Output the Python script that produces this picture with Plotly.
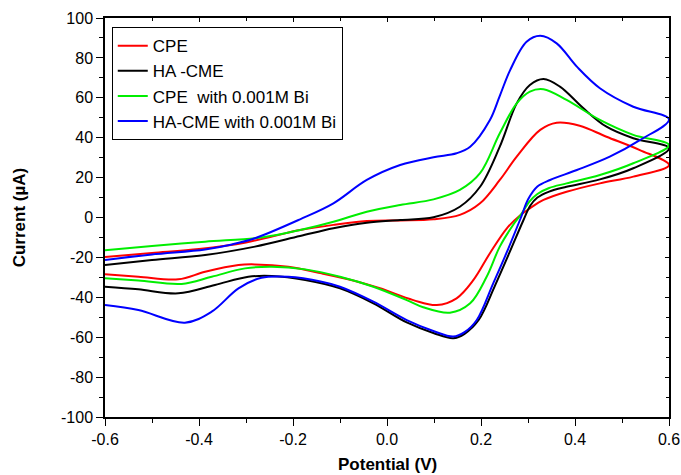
import plotly.graph_objects as go

# ---- data ----
cpe_v = [-0.6, -0.5, -0.4, -0.3, -0.232, -0.185, -0.114, -0.043, 0.028, 0.099, 0.155, 0.198, 0.24, 0.276, 0.326, 0.361, 0.41, 0.467, 0.538, 0.6,
         0.524, 0.453, 0.382, 0.333, 0.304, 0.283, 0.255, 0.219, 0.184, 0.148, 0.106, 0.056, -0.015, -0.068, -0.139, -0.21, -0.281, -0.316, -0.387, -0.444, -0.529, -0.6]
cpe_i = [-19.8, -17.8, -15.8, -12.5, -8.8, -6.3, -3.7, -1.8, -1.5, -0.9, 1.3, 7.1, 18.8, 30.5, 43.9, 47.5, 46.0, 40.5, 33.8, 26.3,
         20.5, 17.1, 12.9, 8.8, 4.6, 1.0, -5.4, -17.9, -31.3, -40.5, -43.9, -41.4, -35.5, -31.8, -28.0, -24.7, -23.5, -23.8, -27.2, -31.0, -29.7, -28.5]

hacme_v = [-0.6, -0.5, -0.387, -0.281, -0.185, -0.114, -0.043, 0.028, 0.099, 0.155, 0.198, 0.24, 0.276, 0.304, 0.333, 0.368, 0.418, 0.467, 0.524, 0.6,
           0.524, 0.453, 0.382, 0.345, 0.32, 0.305, 0.29, 0.26, 0.23, 0.195, 0.165, 0.141, 0.1, 0.042, -0.029, -0.1, -0.174, -0.245, -0.295, -0.366, -0.444, -0.529, -0.6]
hacme_i = [-23.8, -21.3, -18.8, -14.6, -9.3, -5.4, -2.6, -1.25, 0.1, 5.4, 15.4, 35.5, 57.2, 66.4, 69.4, 65.6, 54.7, 45.5, 39.7, 34.7,
           24.7, 19.1, 15.4, 13.0, 10.0, 6.0, -1.5, -17.9, -34.0, -51.4, -58.3, -60.5, -58.0, -52.6, -43.0, -35.5, -31.3, -29.3, -29.7, -33.8, -38.0, -36.0, -34.7]

cpebi_v = [-0.6, -0.5, -0.387, -0.281, -0.232, -0.185, -0.114, -0.043, 0.028, 0.099, 0.155, 0.198, 0.24, 0.276, 0.304, 0.333, 0.382, 0.453, 0.524, 0.6,
           0.524, 0.453, 0.382, 0.345, 0.32, 0.303, 0.285, 0.269, 0.24, 0.212, 0.177, 0.134, 0.077, 0.042, -0.029, -0.1, -0.174, -0.245, -0.302, -0.373, -0.437, -0.529, -0.6]
cpebi_i = [-16.4, -14.3, -12.1, -10.4, -8.6, -6.3, -2.1, 2.9, 6.3, 9.1, 13.8, 22.2, 42.2, 57.2, 63.1, 64.3, 58.9, 48.9, 41.4, 36.3,
           27.2, 21.3, 17.1, 14.8, 11.8, 8.0, 1.5, -3.5, -14.6, -29.7, -43.0, -47.7, -45.0, -41.4, -34.7, -29.7, -26.0, -24.7, -25.5, -29.7, -33.3, -31.6, -30.5]

hacmebi_v = [-0.6, -0.5, -0.387, -0.33, -0.281, -0.185, -0.114, -0.043, 0.028, 0.099, 0.148, 0.177, 0.219, 0.24, 0.262, 0.297, 0.326, 0.361, 0.404, 0.453, 0.524, 0.6,
             0.538, 0.474, 0.404, 0.347, 0.32, 0.30, 0.285, 0.254, 0.226, 0.191, 0.165, 0.141, 0.1, 0.042, -0.029, -0.1, -0.139, -0.21, -0.267, -0.316, -0.373, -0.43, -0.529, -0.6]
hacmebi_i = [-21.3, -18.5, -16.0, -13.5, -10.4, -0.9, 7.1, 18.8, 26.3, 30.2, 32.2, 35.5, 48.9, 61.0, 73.9, 88.1, 91.1, 87.3, 75.6, 64.8, 55.5, 49.2,
             38.8, 30.5, 23.8, 18.8, 15.5, 9.0, 0.0, -17.9, -33.0, -51.4, -57.5, -59.7, -57.0, -51.4, -42.2, -34.7, -32.2, -29.7, -30.2, -35.5, -47.2, -52.7, -46.4, -43.9]

names = ["CPE", "HA -CME", "CPE\u00a0 with 0.001M Bi", "HA-CME with 0.001M Bi"]
colors = ["#ff0000", "#000000", "#00ee00", "#0000ff"]
series = [(cpe_v, cpe_i), (hacme_v, hacme_i), (cpebi_v, cpebi_i), (hacmebi_v, hacmebi_i)]

x_ticks = [-0.6, -0.4, -0.2, 0.0, 0.2, 0.4, 0.6]
x_labels = ["-0.6", "-0.4", "-0.2", "0.0", "0.2", "0.4", "0.6"]
y_ticks = [-100, -80, -60, -40, -20, 0, 20, 40, 60, 80, 100]
y_labels = ["-100", "-80", "-60", "-40", "-20", "0", "20", "40", "60", "80", "100"]

x_title = "Potential (V)"
y_title = "Current (µA)"

FONT = "Liberation Sans, Arial, sans-serif"

fig = go.Figure()
for (v, i), n, c in zip(series, names, colors):
    fig.add_trace(go.Scatter(x=v, y=i, mode="lines", name=n,
                             line=dict(color=c, width=2, shape="spline", smoothing=1.0)))

# dummy trace for the mirrored (top/right) axes with inward ticks
fig.add_trace(go.Scatter(x=[None], y=[None], xaxis="x2", yaxis="y2", showlegend=False, hoverinfo="skip"))

axis_common = dict(showgrid=False, zeroline=False, linecolor="black", linewidth=1.5,
                   tickcolor="black", tickwidth=1.2, automargin=False)

fig.update_layout(
    width=681, height=475,
    margin=dict(l=105, r=12, t=18, b=58),
    plot_bgcolor="white", paper_bgcolor="white",
    font=dict(family=FONT, color="black", size=15),
    showlegend=True,
    legend=dict(x=0.012, y=0.977, xanchor="left", yanchor="top",
                bordercolor="black", borderwidth=1, bgcolor="white",
                font=dict(family=FONT, size=17, color="black"),
                tracegroupgap=0, itemwidth=30),
    xaxis=dict(range=[-0.6, 0.6], tickvals=x_ticks, ticktext=x_labels,
               ticks="outside", ticklen=7, showline=True, mirror=True,
               minor=dict(dtick=0.1, tick0=-0.6, ticks="outside", ticklen=4, tickcolor="black"),
               tickfont=dict(family=FONT, size=16), **axis_common),
    yaxis=dict(range=[-100, 100], tickvals=y_ticks, ticktext=y_labels,
               ticks="outside", ticklen=7, showline=True, mirror=True,
               minor=dict(dtick=10, tick0=-100, ticks="outside", ticklen=4, tickcolor="black"),
               tickfont=dict(family=FONT, size=16), **axis_common),
    xaxis2=dict(range=[-0.6, 0.6], overlaying="x", side="top", anchor="y2",
                tickvals=x_ticks, showticklabels=False, ticks="inside", ticklen=4,
                minor=dict(dtick=0.1, tick0=-0.6, ticks="inside", ticklen=3, tickcolor="black"),
                showline=False, showgrid=False, zeroline=False, tickcolor="black", automargin=False),
    yaxis2=dict(range=[-100, 100], overlaying="y", side="right", anchor="x2",
                tickvals=y_ticks, showticklabels=False, ticks="inside", ticklen=4,
                minor=dict(dtick=10, tick0=-100, ticks="inside", ticklen=3, tickcolor="black"),
                showline=False, showgrid=False, zeroline=False, tickcolor="black", automargin=False),
    annotations=[
        dict(text="<b>" + x_title + "</b>", xref="paper", yref="paper", x=0.501, y=-0.12,
             xanchor="center", yanchor="middle", showarrow=False, font=dict(family=FONT, size=17)),
        dict(text="<b>" + y_title + "</b>", xref="paper", yref="paper", x=-0.151, y=0.50,
             xanchor="center", yanchor="middle", textangle=-90, showarrow=False, font=dict(family=FONT, size=17)),
    ],
)

fig.write_html("out.html")
